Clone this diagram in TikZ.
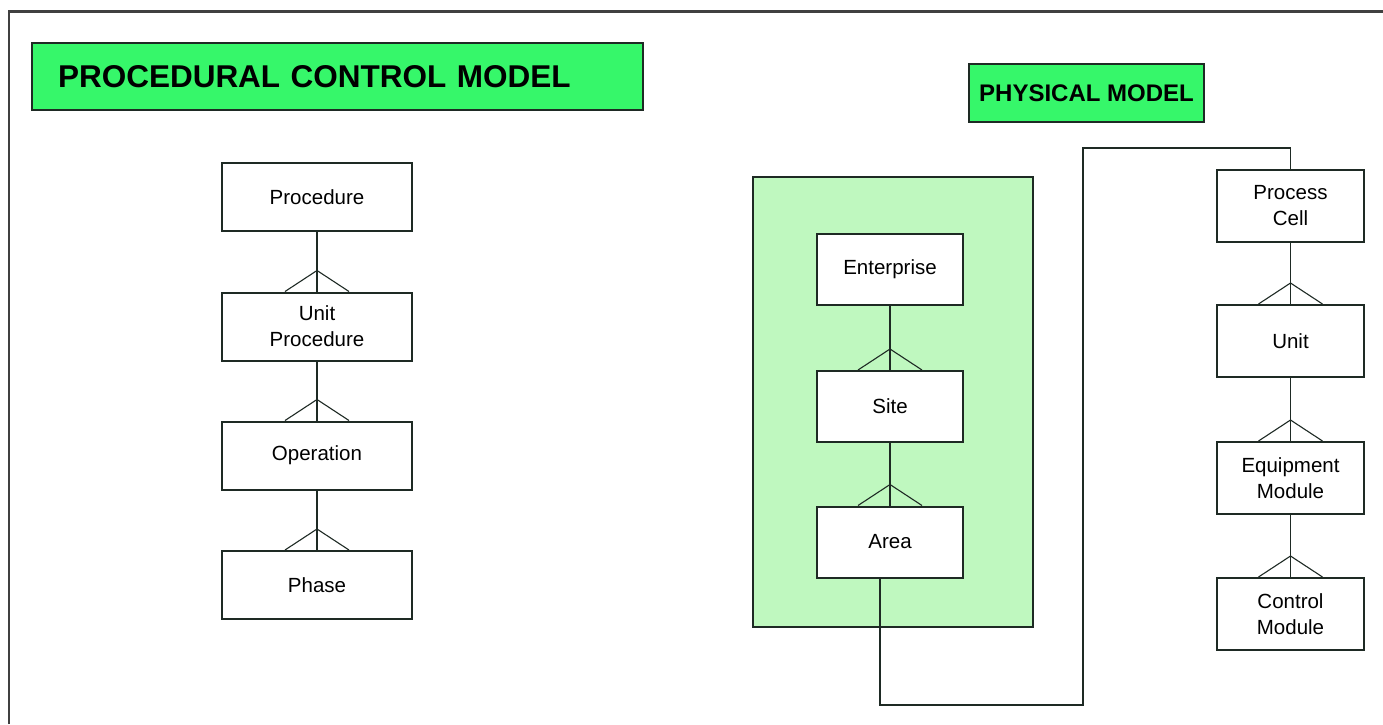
\documentclass[tikz,border=0pt]{standalone}
\usepackage{fontspec}
\setmainfont{Liberation Sans}
\begin{document}
\definecolor{titlegreen}{HTML}{36F76A}
\definecolor{panelgreen}{HTML}{BFF8BF}
\definecolor{edge}{HTML}{1E2A24}
\begin{tikzpicture}[x=1pt,y=-1pt,
  every node/.style={font=\fontsize{20.5}{26}\selectfont},
  ebox/.style={draw=edge,line width=2pt,fill=white,inner sep=0pt,align=center},
  lbox/.style={ebox,minimum width=190pt,minimum height=68pt},
  mbox/.style={ebox,minimum width=146pt,minimum height=71pt},
  rbox/.style={ebox,minimum width=147pt,minimum height=72pt},
  title/.style={draw=edge,line width=2pt,fill=titlegreen,inner ysep=0pt,
    font=\bfseries\fontsize{31.5}{36}\selectfont},
  link/.style={draw=edge,line width=1.6pt},
  foot/.style={draw=edge,line width=1.1pt}]
\useasboundingbox (0,0) rectangle (1383,724);
% outer frame (top and left sides only)
\draw[line width=2.2pt,draw=black!75] (9,724) -- (9,11.5) -- (1383,11.5);

% headings
\node[title,inner xsep=26pt,text width=559pt,align=left,minimum height=67pt]
  (ptitle) at (337.5,76.5) {PROCEDURAL CONTROL MODEL};
\node[title,font=\bfseries\fontsize{24}{28}\selectfont,minimum width=235pt,
  minimum height=58pt,inner xsep=0pt] (mtitle) at (1086.5,93) {PHYSICAL MODEL};

% procedural hierarchy
\node[lbox] (proc) at (317,197) {Procedure};
\node[lbox] (uproc) at (317,326.5) {Unit\\Procedure};
\node[lbox] (oper) at (317,455.5) {Operation};
\node[lbox] (phase) at (317,585) {Phase};

% shaded enterprise group
\node[draw=edge,line width=2pt,fill=panelgreen,minimum width=280pt,
  minimum height=450pt,inner sep=0pt] (panel) at (893,402) {};
\node[mbox] (ent) at (890,269.5) {Enterprise};
\node[mbox] (site) at (890,406.5) {Site};
\node[mbox] (area) at (890,542) {Area};

% equipment hierarchy
\node[rbox] (pcell) at (1290.5,206) {Process\\Cell};
\node[rbox] (unit) at (1290.5,341) {Unit};
\node[rbox] (emod) at (1290.5,478) {Equipment\\Module};
\node[rbox] (cmod) at (1290.5,614) {Control\\Module};

% one-to-many links with crow's feet
\foreach \p/\c in {proc/uproc,uproc/oper,oper/phase,
                   ent/site,site/area,
                   pcell/unit,unit/emod,emod/cmod}{
  \draw[link] (\p.south) -- (\c.north);
  \draw[foot] ([xshift=-32pt]\c.north) -- ([yshift=21pt]\c.north)
              -- ([xshift=32pt]\c.north);
}

% area to process cell route
\coordinate (a1) at (880,705);
\coordinate (a2) at (1083,705);
\coordinate (a3) at (1083,148);
\draw[link] (area.south -| a1) -- (a1) -- (a2) -- (a3) -| (pcell.north);
\end{tikzpicture}
\end{document}
